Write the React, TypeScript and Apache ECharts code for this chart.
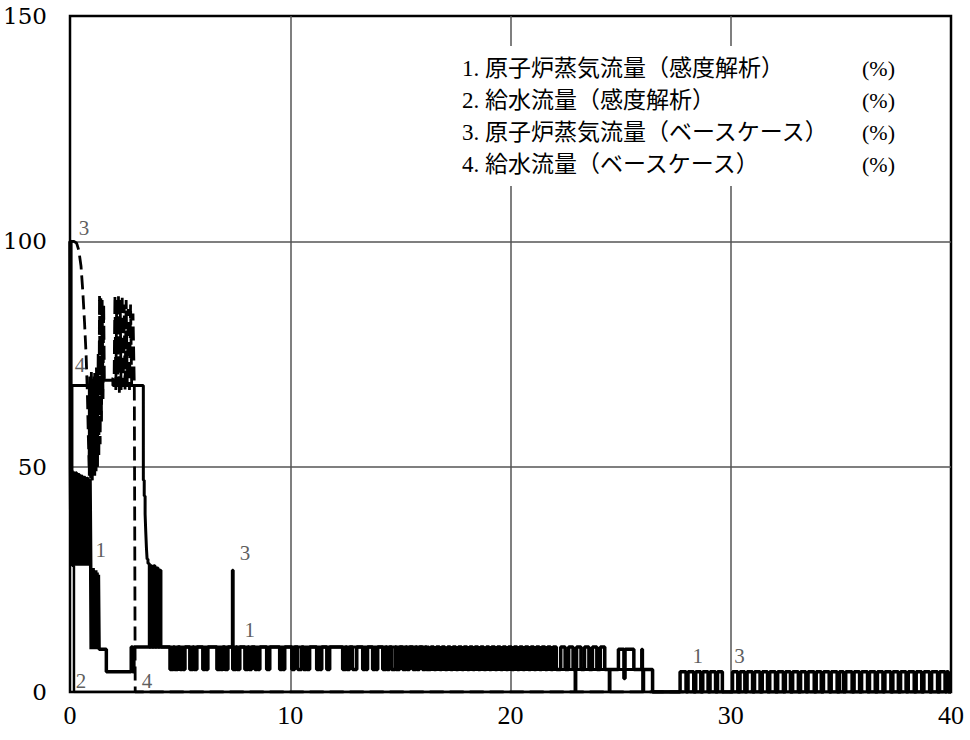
import React, { useEffect, useRef } from 'react';
import * as echarts from 'echarts';

// axis ticks
const xTicks = [0, 10, 20, 30, 40];
const yTicks = [0, 50, 100, 150];

// legend (upper right)
const legendRows = [
  '1. 原子炉蒸気流量（感度解析）',
  '2. 給水流量（感度解析）',
  '3. 原子炉蒸気流量（ベースケース）',
  '4. 給水流量（ベースケース）',
];
const legendUnit = '(%)';

// 1. 原子炉蒸気流量（感度解析）: first seconds (time s, %)
const steamSensStart: [number, number][] = [
  [0, 100], [0.02, 49.3], [0.05, 28], [0.08, 49.2], [0.11, 28], [0.14, 49], [0.17, 28],
  [0.2, 48.8], [0.23, 28], [0.26, 48.6], [0.3, 28], [0.33, 48.4], [0.36, 28], [0.39, 48.2],
  [0.43, 28], [0.46, 48], [0.49, 28], [0.52, 47.9], [0.56, 28], [0.59, 47.7], [0.62, 28],
  [0.65, 47.6], [0.69, 28], [0.72, 47.5], [0.75, 28], [0.78, 47.4], [0.82, 28], [0.85, 47.3],
  [0.88, 28], [0.91, 47.2], [0.94, 28],
  [0.96, 9.5], [0.99, 27.5], [1.02, 9.5], [1.05, 27.5], [1.08, 9.5], [1.11, 27], [1.14, 9.5],
  [1.17, 27], [1.2, 9.5], [1.23, 26.5], [1.26, 9.5], [1.29, 26], [1.32, 9.5],
  [1.65, 4.5], [2.78, 10], [2.84, 4.5], [2.9, 10],
];
// intervals where flow drops from 10 % to 5 %
const steamSensDrops: [number, number][] = [
  [4.54, 4.7], [4.74, 4.9], [4.99, 5.1], [5.13, 5.22], [5.44, 5.58], [5.62, 5.76], [6.03, 6.13],
  [6.16, 6.26], [6.67, 6.8], [6.83, 6.94], [7.03, 7.17], [7.39, 7.54], [7.58, 7.71], [7.94, 8.08],
  [8.12, 8.25], [8.39, 8.5], [8.53, 8.62], [8.93, 9.07], [9.52, 9.63], [9.66, 9.75], [10.07, 10.2],
  [10.34, 10.52], [10.6, 10.73], [10.76, 10.88], [11.2, 11.3], [11.33, 11.43], [11.66, 11.79],
  [12.38, 12.52], [12.56, 12.7], [12.83, 13.02], [13.29, 13.4], [13.43, 13.51], [13.74, 13.85],
  [13.88, 13.97], [14.2, 14.34], [14.38, 14.51], [14.6, 14.77], [14.81, 14.97], [15.1, 15.25],
  [15.29, 15.42], [15.56, 15.7], [15.74, 15.87], [16.0, 16.14], [16.18, 16.3],
];
// intervals where flow rises from 5 % to 10 %
const steamSensRises: [number, number][] = [
  [16.38, 16.52], [16.63, 16.78], [16.88, 17.02], [17.14, 17.27], [17.38, 17.52], [17.63, 17.78],
  [17.88, 18.03], [18.14, 18.28], [18.38, 18.53], [18.64, 18.78], [18.9, 19.03], [19.14, 19.29],
  [19.4, 19.54], [19.65, 19.79], [19.9, 20.05], [20.16, 20.3], [20.41, 20.55], [20.66, 20.81],
  [20.92, 21.06], [21.17, 21.31], [21.42, 21.57], [21.68, 21.82], [21.93, 22.08], [22.28, 22.48],
  [22.64, 22.84], [23.0, 23.2], [23.36, 23.56], [23.72, 23.92], [24.08, 24.28],
];
const steamSensTail: [number, number][] = [
  [24.9, 9.5], [25.15, 3], [25.2, 9.5], [25.6, 5], [26.45, 0],
];
// intervals where flow is at about 4.5 % (otherwise 0 %)
const steamSensLatePulses: [number, number][] = [
  [27.7, 27.97], [28.06, 28.32], [28.41, 28.64], [28.73, 28.97], [29.06, 29.31], [29.4, 29.62],
  [30.08, 30.32], [30.42, 30.64], [30.74, 30.99], [31.08, 31.33], [31.43, 31.67], [31.77, 32.03],
  [32.13, 32.39], [32.48, 32.71], [32.81, 33.07], [33.17, 33.41], [33.51, 33.79], [33.88, 34.11],
  [34.21, 34.47], [34.56, 34.83], [34.93, 35.12], [35.22, 35.51], [35.6, 35.85], [35.94, 36.21],
  [36.3, 36.56], [36.66, 36.91], [37.0, 37.27], [37.36, 37.61], [37.71, 37.96], [38.06, 38.33],
  [38.42, 38.67], [38.77, 39.03], [39.12, 39.39], [39.48, 39.73], [39.8, 39.88],
];

// 2. 給水流量（感度解析）
const feedSens: [number, number][] = [[0, 68], [0.1, 28], [0.18, 0], [40, 0]];

// 3. 原子炉蒸気流量（ベースケース）
const steamBase: [number, number][] = [
  [0, 100], [0.05, 68], [0.88, 48], [0.91, 68], [0.94, 47.5], [0.97, 69], [1.0, 47],
  [1.03, 69], [1.06, 48], [1.09, 70], [1.12, 48], [1.15, 70], [1.18, 49], [1.21, 70],
  [1.24, 50], [1.27, 69], [1.3, 68],
  [1.35, 69.2], [1.95, 68], [3.33, 47], [3.37, 43.5], [3.41, 39.5],
  [3.44, 35.5], [3.47, 32], [3.5, 29.5], [3.54, 28.5], [3.6, 10], [3.66, 28], [3.72, 10],
  [3.8, 28], [3.86, 10], [3.93, 27.5], [4.0, 10], [4.07, 27], [4.13, 10], [7.37, 27],
  [7.41, 10], [16.3, 5], [22.93, 0.3], [22.97, 5], [24.48, 0.3], [24.52, 5], [25.95, 9.5],
  [26.0, 0.3], [26.05, 5], [26.45, 0], [40, 0],
];

// 4. 給水流量（ベースケース）
const feedBase: [number, number][] = [
  [0, 100], [0.18, 100], [0.3, 99.6], [0.4, 98], [0.5, 94.5], [0.58, 89], [0.66, 82],
  [0.73, 75], [0.79, 66], [0.83, 57], [0.87, 50],
  [0.9, 70], [0.93, 48], [0.97, 71], [1.0, 47], [1.04, 70], [1.08, 48], [1.12, 71], [1.16, 49],
  [1.2, 72], [1.24, 50], [1.28, 75], [1.31, 52], [1.34, 88], [1.37, 55], [1.4, 88], [1.43, 60],
  [1.46, 87], [1.5, 65], [1.53, 86], [1.56, 69.5], [1.95, 69.5],
  [2.0, 68], [2.04, 88], [2.08, 67], [2.12, 87], [2.16, 68], [2.2, 88], [2.24, 66], [2.28, 87],
  [2.32, 67], [2.37, 88], [2.41, 68], [2.46, 86], [2.5, 67], [2.55, 87], [2.6, 68], [2.65, 85],
  [2.7, 67], [2.75, 86], [2.8, 68], [2.86, 84], [2.92, 68], [2.95, 68], [2.96, 0], [40, 0],
];

// curve number labels [time, %, text]
const curveLabels: [number, number, string][] = [
  [0.63, 103, '3'], [0.45, 72.5, '4'], [1.4, 31.5, '1'], [0.5, 2.5, '2'], [3.5, 2.5, '4'],
  [7.94, 30.8, '3'], [8.16, 13.8, '1'], [28.5, 8, '1'], [30.4, 8, '3'],
];

function pulses(intervals: [number, number][], base: number, level: number): [number, number][] {
  const out: [number, number][] = [];
  for (const [a, b] of intervals) {
    out.push([a, level]);
    out.push([b, base]);
  }
  return out;
}

const steamSensData: [number, number][] = [
  ...steamSensStart,
  ...pulses(steamSensDrops, 10, 5),
  [16.3, 5],
  ...pulses(steamSensRises, 5, 10),
  ...steamSensTail,
  ...pulses(steamSensLatePulses, 0, 4.5),
  [40, 0],
];

const SERIF = "'Liberation Serif', 'DejaVu Serif', serif";
const JP = "'Liberation Serif', 'Noto Sans CJK JP', sans-serif";

export default function App() {
  const ref = useRef<HTMLDivElement>(null);
  useEffect(() => {
    if (!ref.current) return;
    const chart = echarts.init(ref.current, null, { renderer: 'svg' });
    const gl = { left: 70, top: 16, width: 881, height: 676 };
    const rowY = [68, 100, 132, 164];
    const graphicEls: any[] = [
      {
        type: 'rect',
        z: 100,
        shape: { x: 448, y: 46, width: 458, height: 140 },
        style: { fill: '#fff' },
        silent: true,
      },
    ];
    legendRows.forEach((t, i) => {
      graphicEls.push({
        type: 'text', z: 101, x: 462, y: rowY[i],
        style: { text: t, font: `23px ${JP}`, fill: '#000', align: 'left', verticalAlign: 'middle' },
      });
      graphicEls.push({
        type: 'text', z: 101, x: 862, y: rowY[i],
        style: { text: legendUnit, font: `22px ${SERIF}`, fill: '#000', align: 'left', verticalAlign: 'middle' },
      });
    });
    const lineBase = { type: 'line', showSymbol: false, symbol: 'none', silent: true, z: 3 };
    chart.setOption({
      animation: false,
      grid: { ...gl, show: true, borderColor: '#000', borderWidth: 2.5, backgroundColor: 'transparent' },
      xAxis: {
        type: 'value', min: xTicks[0], max: xTicks[xTicks.length - 1], interval: 10,
        axisLine: { show: false }, axisTick: { show: false },
        axisLabel: { fontFamily: SERIF, fontSize: 26, color: '#000', margin: 10 },
        splitLine: { show: true, showMinLine: false, showMaxLine: false, lineStyle: { color: '#555', width: 1.5 } },
      },
      yAxis: {
        type: 'value', min: yTicks[0], max: yTicks[yTicks.length - 1], interval: 50,
        axisLine: { show: false }, axisTick: { show: false },
        axisLabel: { fontFamily: "'DejaVu Serif', serif", fontSize: 23, color: '#000', margin: 23 },
        splitLine: { show: true, showMinLine: false, showMaxLine: false, lineStyle: { color: '#555', width: 1.5 } },
      },
      series: [
        { ...lineBase, name: legendRows[1], step: 'end', data: feedSens, lineStyle: { color: '#000', width: 2.5 } },
        { ...lineBase, name: legendRows[3], data: feedBase, lineStyle: { color: '#000', width: 2.8, type: [14, 6] } },
        { ...lineBase, name: legendRows[2], step: 'end', data: steamBase, lineStyle: { color: '#000', width: 3 } },
        { ...lineBase, name: legendRows[0], step: 'end', data: steamSensData, lineStyle: { color: '#000', width: 3.5 } },
        {
          type: 'scatter', symbolSize: 0, silent: true, z: 5,
          data: curveLabels.map(([x, y, t]) => ({ value: [x, y], name: t })),
          label: { show: true, position: 'inside', formatter: '{b}', fontFamily: SERIF, fontSize: 21, color: '#333' },
        },
      ],
      graphic: graphicEls,
    });
    return () => chart.dispose();
  }, []);
  return <div ref={ref} style={{ position: 'absolute', left: 0, top: 0, width: 970, height: 740 }} />;
}
